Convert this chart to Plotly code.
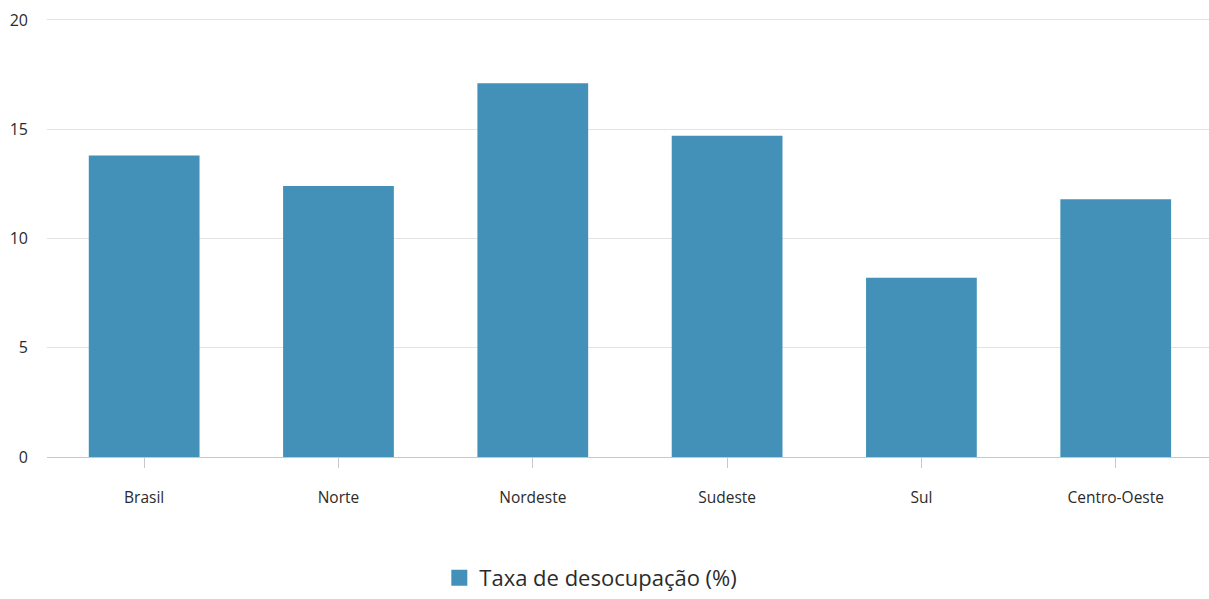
import plotly.graph_objects as go

categories = ["Brasil", "Norte", "Nordeste", "Sudeste", "Sul", "Centro-Oeste"]
taxa_desocupacao = [13.8, 12.4, 17.1, 14.7, 8.2, 11.8]
series_name = "Taxa de desocupação (%)"
y_ticks = [0, 5, 10, 15, 20]

BAR_COLOR = "#4391B8"
TEXT_COLOR = "#2B2B2B"

fig = go.Figure()
fig.add_trace(go.Bar(
    x=categories,
    y=taxa_desocupacao,
    name=series_name,
    marker=dict(color=BAR_COLOR, line=dict(width=0)),
    showlegend=False,
    hoverinfo="x+y",
))
# legend proxy (larger square symbol than the bar default)
fig.add_trace(go.Scatter(
    x=[None], y=[None],
    mode="markers",
    name=series_name,
    marker=dict(symbol="square", size=16, color=BAR_COLOR),
    showlegend=True,
))

fig.update_layout(
    width=1209,
    height=599,
    margin=dict(l=47, r=0, t=17, b=142),
    paper_bgcolor="white",
    plot_bgcolor="white",
    bargap=0.43,
    font=dict(family="Open Sans, sans-serif", color=TEXT_COLOR, size=15),
    legend=dict(
        orientation="h",
        x=0.468, xanchor="center",
        y=-0.275, yanchor="middle",
        font=dict(size=22, color=TEXT_COLOR),
        bgcolor="rgba(0,0,0,0)",
    ),
    xaxis=dict(
        type="category",
        range=[-0.5, 5.48],
        showgrid=False,
        showline=True,
        linecolor="#C8C8C8",
        linewidth=1,
        ticks="outside",
        ticklen=10,
        tickcolor="#C8C8C8",
        tickwidth=1,
        ticklabelstandoff=16,
        tickfont=dict(size=15.5, color=TEXT_COLOR),
        zeroline=False,
    ),
    yaxis=dict(
        range=[0, 20.137],
        tickvals=y_ticks,
        showgrid=True,
        gridcolor="#E3E3E3",
        gridwidth=1,
        zeroline=False,
        showline=False,
        ticks="",
        ticklabelstandoff=18,
        tickfont=dict(size=16, color=TEXT_COLOR),
    ),
)

fig.write_html(
    "out.html",
    config={"displayModeBar": False},
    post_script="document.body.style.margin='0';document.body.style.padding='0';",
)
